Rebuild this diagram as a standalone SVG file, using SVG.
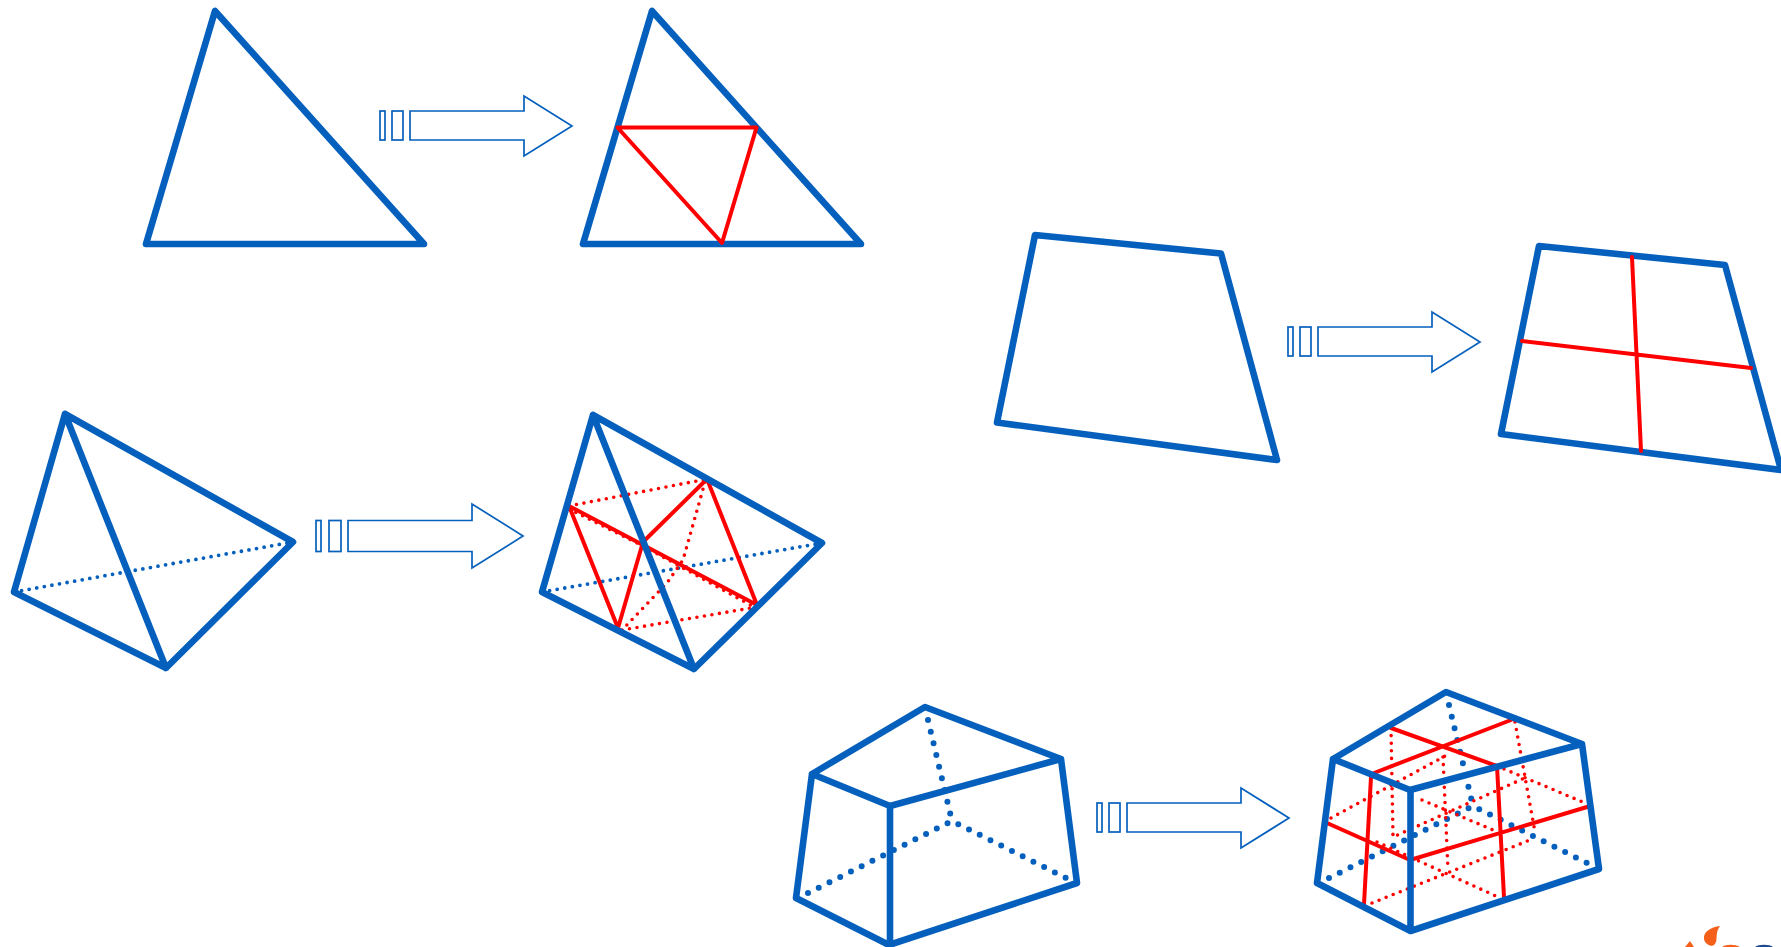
<svg xmlns="http://www.w3.org/2000/svg" width="1781" height="947" viewBox="0 0 1781 947">
<style>
.b{fill:none;stroke:#0560bd;stroke-width:6.6;stroke-linejoin:round;stroke-linecap:round}
.r{fill:none;stroke:#ff0000;stroke-width:4;stroke-linecap:round;stroke-linejoin:round}
.bd{fill:none;stroke:#0560bd;stroke-width:3.8;stroke-dasharray:0 7.7;stroke-linecap:round}
.bD{fill:none;stroke:#0560bd;stroke-width:6;stroke-dasharray:0 12;stroke-linecap:round}
.rd{fill:none;stroke:#ff0000;stroke-width:3.6;stroke-dasharray:0 7.6;stroke-linecap:round}
.a{fill:#fff;stroke:#0560bd;stroke-width:1.7}
</style>
<defs>
<g id="arrow">
<rect class="a" x="-192" y="-15" width="5" height="29"/>
<rect class="a" x="-180" y="-15" width="11" height="29"/>
<path class="a" d="M-162-15H-48V-30L0 0L-48 30V14H-162Z"/>
</g>
<g id="arrow-long">
<rect class="a" x="-207" y="-15.500" width="5" height="31"/>
<rect class="a" x="-194" y="-15.500" width="12" height="31"/>
<path class="a" d="M-175-15.500H-51V-32L0 0L-51 32V15.500H-175Z"/>
</g>
</defs>
<g id="connectors">
<use href="#arrow" x="572" y="126"/>
<use href="#arrow" x="1480" y="342"/>
<use href="#arrow-long" x="523" y="536"/>
<use href="#arrow" x="1289" y="818"/>
</g>
<g id="triangle-a"><path class="b" d="M215 11L146 244H424Z"/></g>
<g id="triangle-b">
<path class="b" d="M652 11L583 244H861Z"/>
<path class="r" d="M617.500 127.500H756.500L722 243Z"/>
</g>
<g id="quad-a"><path class="b" d="M1035 235L1221 253.500L1277 460L997 422.500Z"/></g>
<g id="quad-b">
<path class="b" d="M1539 246L1725 265L1781 470L1501 434Z"/>
<path class="r" d="M1632 257L1641 451M1522 341L1751 368"/>
</g>
<g id="tet-a">
<path class="bd" d="M14 592L293 542"/>
<path class="b" d="M65 414L14 592L166 668L293 542ZL166 668"/>
</g>
<g id="tet-b">
<path class="bd" d="M542 592L822 543"/>
<path class="rd" d="M569 506L707 479M705 482L683 560L667 583L625 627M622 630L757 607M569 509L643 546L754 607"/>
<path class="r" d="M569 506L757 605L707 479L643 542L618 628Z"/>
<path class="b" d="M593 415L542 592L694 669L822 543ZL694 669"/>
</g>
<g id="hex-a">
<path class="bD" d="M928 720L952 821M808 893L952 821L1066 878"/>
<path class="b" d="M925 707L812 774L890 806L1061 759ZM812 774L796 898L889 945L1077 883L1061 759M890 806V945"/>
</g>
<g id="hex-b">
<path class="bD" d="M1449 705L1473 806M1329 878L1473 806L1587 863"/>
<path class="rd" d="M1331 818L1447 755M1443 757L1448 870M1391 728L1393 837L1527 777M1515 722L1535 832M1497 766L1585 803M1372 903L1530 840M1422 800L1493 830M1377 842L1498 897"/>
<path class="r" d="M1391 728L1497 766M1511 720L1374 773M1371 777L1364 904M1497 766L1504 897M1327 823L1410 860L1587 807"/>
<path class="b" d="M1446 692L1333 759L1410 790L1582 744ZM1333 759L1317 883L1410.500 931L1599 869L1582 744M1410.500 790V931"/>
</g>
<g id="logo">
<path d="M1720 926C1712 927 1703 931 1704 939C1705 945 1712 947 1714 945C1719 941 1714 934 1720 926Z" fill="#f4601a"/>
<path d="M1685 947L1690 941L1694 947Z" fill="#f4601a"/>
<path d="M1722 947C1726 944 1735 944 1740 947Z" fill="#f4601a"/>
<path d="M1755 947C1758 944 1770 944 1773 947Z" fill="#1c4a8c"/>
</g>
</svg>
